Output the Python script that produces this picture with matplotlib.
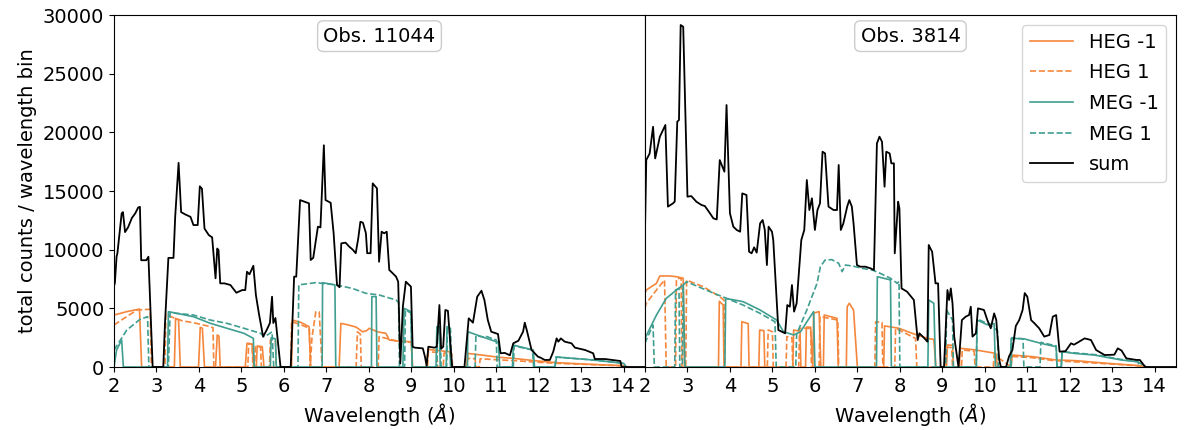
import matplotlib
matplotlib.use("Agg")
import matplotlib.pyplot as plt

# ---------------- Obs. 11044 (left panel) ----------------
obs11044_sum_wl = [2.0, 2.02, 2.06, 2.08, 2.18, 2.21, 2.26, 2.33, 2.42, 2.50, 2.57, 2.61, 2.64, 2.76, 2.81, 2.84, 2.91,
                   3.16, 3.20, 3.28, 3.40, 3.44, 3.52, 3.58, 3.68, 3.80, 3.87, 3.97, 4.02, 4.07, 4.13, 4.23, 4.31,
                   4.39, 4.43, 4.46, 4.50, 4.60, 4.74, 4.88, 5.02, 5.09, 5.13, 5.19, 5.28, 5.34, 5.41, 5.51, 5.60,
                   5.67, 5.72, 5.75, 5.80, 5.92, 6.16, 6.24, 6.29, 6.38, 6.59, 6.63, 6.69, 6.80, 6.86, 6.94, 6.98,
                   7.10, 7.17, 7.25, 7.31, 7.35, 7.45, 7.54, 7.62, 7.69, 7.75, 7.80, 7.86, 7.93, 7.96, 8.04, 8.09,
                   8.19, 8.24, 8.30, 8.36, 8.42, 8.48, 8.53, 8.64, 8.69, 8.74, 8.80, 8.87, 8.99, 9.03, 9.08, 9.27,
                   9.32, 9.36, 9.40, 9.54, 9.60, 9.66, 9.70, 9.75, 9.80, 9.86, 9.96, 10.25, 10.35, 10.45, 10.55,
                   10.65, 10.72, 10.80, 10.88, 11.04, 11.10, 11.20, 11.32, 11.40, 11.52, 11.63, 11.67, 11.72, 11.83,
                   11.98, 12.04, 12.14, 12.26, 12.34, 12.42, 12.46, 12.52, 12.61, 12.77, 12.85, 13.09, 13.28, 13.32,
                   13.56, 13.92, 13.95, 14.5]
obs11044_sum = [6900, 7160, 9400, 9700, 13100, 13200, 11500, 11900, 12700, 13100, 13600, 13650, 9100, 9100, 9400, 6560, 0,
                0, 3750, 9300, 9300, 12800, 17400, 13200, 13000, 12800, 12100, 12100, 15400, 15200, 11800, 11250, 11050,
                7560, 10100, 9960, 7130, 7130, 6990, 6330, 6560, 6560, 8120, 7900, 8630, 6140, 4570, 2580, 3200,
                3750, 5990, 3750, 4180, 0, 0, 7700, 7700, 14230, 13950, 9120, 9300, 11960, 11900, 18900, 14230,
                14000, 11400, 6990, 6800, 10540, 10600, 10250, 10000, 9700, 10970, 12380, 12300, 11400, 9700, 9700, 15650,
                15230, 8970, 11530, 11400, 11530, 8270, 8100, 7700, 7270, 300, 5140, 7270, 6850, 1730, 1650, 1590,
                880, 100, 1730, 1650, 1730, 5280, 1560, 1730, 4860, 4790, 0, 0, 4150, 3780, 5990,
                6500, 5700, 4000, 3010, 2810, 1170, 1200, 1000, 2020, 2240, 3010, 3780, 3100, 1450,
                880, 800, 600, 600, 1300, 2440, 2160, 2440, 2160, 2020, 1650, 1450, 1170, 680,
                680, 510, 0, 0]

obs11044_heg_m1_wl = [2.0, 2.30, 2.60, 2.65, 3.42, 3.45, 3.52, 3.56, 3.99, 4.03, 4.08, 4.13, 4.39, 4.43, 4.47, 4.50,
                      5.09, 5.13, 5.25, 5.29, 5.35, 5.37, 5.49, 5.53, 6.18, 6.20, 6.40, 6.59, 6.63, 7.30, 7.34, 7.50,
                      7.70, 7.85, 7.95, 8.01, 8.20, 8.40, 8.48, 8.72, 9.00, 9.03, 9.35, 9.40, 9.90, 9.96, 10.30, 10.33,
                      10.70, 11.08, 11.40, 11.90, 12.42, 13.20, 14.00, 14.10]
obs11044_heg_m1 = [4430, 4720, 4940, 0, 0, 4150, 4000, 0, 0, 3380, 3300, 0, 0, 2730, 2640, 0,
                   0, 2020, 1960, 0, 0, 1790, 1730, 0, 0, 4000, 3800, 3440, 0, 0, 3720, 3600,
                   3400, 3000, 3100, 3300, 3000, 2870, 2300, 2200, 2150, 0, 0, 1500, 1300, 0, 0, 1160,
                   1000, 820, 740, 540, 370, 230, 110, 0]

obs11044_heg_p1_wl = [2.0, 2.30, 2.54, 2.85, 2.88, 3.20, 3.22, 3.40, 3.60, 3.90, 4.20, 4.33, 4.35, 5.15, 5.17, 5.25,
                      5.27, 5.31, 5.33, 5.45, 5.47, 5.66, 5.68, 5.80, 5.82, 6.16, 6.18, 6.40, 6.60, 6.62, 6.66, 6.75,
                      6.83, 6.90, 7.70, 7.73, 7.80, 7.82, 8.22, 8.24, 8.40, 8.72, 9.00, 9.02, 9.38, 9.40, 9.60, 9.62,
                      9.75, 9.77, 9.95, 9.97, 10.30, 10.33, 10.50, 10.52, 10.60, 10.62, 11.10, 11.40, 12.00, 12.50,
                      13.30, 14.00, 14.05]
obs11044_heg_p1 = [3580, 4300, 4860, 4920, 0, 0, 4500, 4200, 3950, 3750, 3500, 3350, 0, 0, 2000, 1950,
                   0, 0, 1750, 1700, 0, 0, 2300, 2250, 0, 0, 3860, 3600, 3300, 0, 2500, 4700,
                   4700, 0, 0, 3000, 2800, 0, 0, 2590, 2450, 2160, 2100, 0, 0, 1300, 1250, 0,
                   0, 1200, 1150, 0, 0, 740, 700, 0, 0, 700, 600, 550, 400, 300,
                   200, 100, 0]

obs11044_meg_m1_wl = [2.0, 2.06, 2.18, 2.22, 3.26, 3.28, 3.87, 4.27, 4.66, 5.06, 5.28, 5.30, 5.68, 5.70, 5.80, 5.82,
                      6.90, 6.91, 7.20, 7.22, 8.06, 8.07, 8.17, 8.19, 8.80, 8.83, 8.99, 9.02, 9.58, 9.60, 9.66, 9.68,
                      9.82, 9.84, 9.90, 9.92, 10.32, 10.33, 10.65, 11.05, 11.08, 11.38, 11.40, 11.87, 11.90, 12.38,
                      12.42, 13.28, 14.00, 14.05]
obs11044_meg_m1 = [0, 1450, 2300, 0, 0, 4720, 4290, 3720, 3300, 2870, 2440, 0, 0, 2500, 2400, 0,
                   0, 7190, 7000, 0, 0, 6000, 6000, 0, 0, 5000, 4720, 0, 0, 3440, 3440, 0,
                   0, 3440, 3300, 0, 0, 3010, 2590, 2100, 0, 0, 1870, 1450, 0, 0,
                   850, 600, 310, 0]

obs11044_meg_p1_wl = [2.0, 2.30, 2.61, 2.79, 2.82, 3.28, 3.32, 3.87, 4.27, 4.66, 5.06, 5.45, 5.53, 5.62, 5.72, 5.76,
                      6.33, 6.35, 6.75, 7.22, 7.61, 7.93, 8.24, 8.64, 8.70, 8.72, 8.84, 8.86, 8.99, 9.02, 9.60, 9.62,
                      9.68, 9.70, 9.83, 9.85, 9.92, 9.95, 10.50, 10.52, 10.75, 10.77, 11.00, 11.02, 11.40, 11.42,
                      11.85, 11.88, 12.38, 12.40, 13.20, 14.00, 14.05]
obs11044_meg_p1 = [1450, 3150, 4060, 4290, 0, 0, 4630, 4430, 4000, 3720, 3300, 2870, 2590, 2750, 3000, 0,
                   0, 7000, 7190, 7000, 6700, 6280, 6140, 5710, 5500, 0, 0, 4860, 4600, 0, 0, 3000,
                   3000, 0, 0, 3400, 3300, 0, 0, 2700, 2500, 2600, 2300, 0, 0, 1800,
                   1450, 0, 0, 850, 620, 320, 0]

# ---------------- Obs. 3814 (right panel) ----------------
obs3814_sum_wl = [2.0, 2.03, 2.11, 2.19, 2.24, 2.35, 2.48, 2.54, 2.66, 2.70, 2.76, 2.80, 2.84, 2.90, 3.00, 3.09,
                  3.21, 3.33, 3.41, 3.53, 3.61, 3.69, 3.76, 3.87, 3.92, 4.00, 4.08, 4.16, 4.24, 4.29, 4.39, 4.45,
                  4.51, 4.57, 4.63, 4.71, 4.77, 4.82, 4.87, 4.91, 4.99, 5.02, 5.14, 5.30, 5.35, 5.41, 5.46, 5.51,
                  5.57, 5.68, 5.75, 5.81, 5.87, 5.93, 6.00, 6.06, 6.12, 6.18, 6.24, 6.32, 6.44, 6.52, 6.56, 6.61,
                  6.67, 6.76, 6.81, 6.87, 6.91, 6.99, 7.07, 7.19, 7.31, 7.39, 7.46, 7.52, 7.58, 7.64, 7.68, 7.76,
                  7.80, 7.86, 7.88, 7.96, 7.99, 8.04, 8.17, 8.33, 8.42, 8.46, 8.54, 8.65, 8.68, 8.72, 8.76, 8.84,
                  8.90, 8.96, 9.04, 9.12, 9.16, 9.20, 9.24, 9.28, 9.38, 9.46, 9.55, 9.63, 9.67, 9.71, 9.79, 9.84,
                  9.98, 10.06, 10.14, 10.22, 10.27, 10.34, 10.38, 10.50, 10.57, 10.65, 10.73, 10.81, 10.89, 10.94,
                  11.00, 11.09, 11.17, 11.28, 11.40, 11.52, 11.60, 11.68, 11.76, 11.90, 12.03, 12.10, 12.35, 12.50,
                  12.62, 12.82, 13.05, 13.13, 13.22, 13.33, 13.57, 13.65, 13.76, 13.80, 14.5]
obs3814_sum = [11530, 17640, 18200, 20480, 17780, 19630, 20630, 13670, 13950, 14100, 20910, 21050, 29150, 29000, 14520, 14570,
               14090, 13810, 13720, 13100, 12670, 12580, 17640, 16650, 22330, 13100, 11960, 11680, 11530, 14800, 14660, 9830,
               9690, 10200, 9750, 12240, 12530, 11700, 8690, 11960, 11530, 10820, 3150, 2870, 5280, 5140, 6990, 4720,
               5430, 10820, 11680, 15940, 13380, 14380, 11680, 13380, 13950, 18350, 18210, 13670, 13380, 13380, 17220, 11680,
               12240, 13670, 14230, 13670, 12240, 8690, 8550, 8550, 8410, 8270, 19060, 19630, 19200, 15370, 18350, 18210,
               17360, 17360, 9690, 14090, 13500, 6700, 6420, 5710, 2300, 2870, 2590, 2160, 10400, 10100, 9830, 7130,
               7130, 0, 0, 6560, 5710, 6700, 5430, 2590, 0, 4000, 4290, 4430, 5140, 2590, 2870, 5000,
               4860, 4000, 3300, 4570, 4000, 600, 0, 0, 900, 1450, 3500, 4000, 4860, 6300,
               6000, 4000, 3720, 3300, 2590, 2730, 4290, 4430, 1310, 1350, 2020, 1900, 2440, 2300,
               1450, 1020, 1050, 1590, 1400, 740, 600, 600, 85, 0, 0]

obs3814_heg_m1_wl = [2.0, 2.03, 2.27, 2.35, 2.58, 2.74, 2.90, 2.93, 3.73, 3.75, 3.84, 3.86, 4.26, 4.28, 4.43, 4.45,
                     4.68, 4.70, 4.80, 4.82, 5.48, 5.50, 5.65, 5.67, 5.78, 5.80, 5.90, 5.95, 5.97, 6.10, 6.14, 6.20,
                     6.22, 6.52, 6.55, 6.74, 6.76, 6.81, 6.91, 7.00, 7.62, 7.64, 7.98, 8.29, 8.65, 8.80, 8.85, 9.10,
                     9.12, 9.24, 9.26, 9.40, 9.42, 9.79, 10.26, 10.30, 10.60, 10.65, 11.13, 11.68, 12.15, 12.90,
                     13.70, 13.75]
obs3814_heg_m1 = [6300, 6560, 7130, 7760, 7760, 7700, 7560, 0, 0, 5600, 5300, 0, 0, 3860, 3700, 0,
                  0, 3150, 3100, 0, 0, 3150, 3050, 0, 0, 3400, 3400, 0, 4600, 4720, 0, 0,
                  4430, 4150, 0, 0, 5140, 5430, 4860, 0, 0, 3500, 3300, 2870, 2440, 2350, 0, 0,
                  1880, 1850, 0, 0, 1600, 1450, 1160, 0, 0, 1020, 880, 600, 540, 310,
                  100, 0]

obs3814_heg_p1_wl = [2.0, 2.03, 2.27, 2.46, 2.50, 2.72, 2.74, 2.85, 2.87, 2.96, 2.98, 3.37, 3.76, 3.86, 3.88, 4.88,
                     4.90, 5.00, 5.02, 5.32, 5.34, 5.46, 5.48, 5.62, 5.64, 5.90, 5.92, 6.10, 6.12, 6.54, 6.56,
                     7.41, 7.43, 7.58, 7.60, 7.88, 7.90, 8.37, 8.40, 9.08, 9.10, 9.22, 9.24, 9.45, 9.47, 9.75,
                     9.77, 10.20, 10.22, 10.62, 10.64, 11.10, 11.60, 12.20, 13.00, 13.70, 13.75]
obs3814_heg_p1 = [5000, 5430, 6560, 7420, 0, 0, 7500, 7600, 0, 0, 7400, 6850, 6000, 5700, 0, 0,
                  3150, 3000, 0, 0, 2600, 2500, 0, 0, 3300, 3300, 0, 0, 4300, 4000, 0,
                  0, 3860, 3800, 0, 0, 3300, 2440, 0, 0, 1700, 1650, 0, 0, 1450, 1350,
                  0, 0, 1050, 0, 900, 800, 550, 420, 250, 80, 0]

obs3814_meg_m1_wl = [2.0, 2.27, 2.50, 2.74, 2.90, 2.94, 3.88, 3.90, 4.31, 4.71, 5.10, 5.26, 5.50, 5.66, 5.89, 5.97,
                     6.00, 7.45, 7.47, 7.78, 7.80, 8.66, 8.68, 8.80, 8.84, 9.80, 9.82, 10.06, 10.22, 10.25, 10.60,
                     10.62, 10.93, 11.17, 11.40, 11.68, 11.70, 11.80, 11.82, 12.11, 12.58, 13.21, 13.60, 13.76, 13.78]
obs3814_meg_m1 = [2440, 4430, 5850, 6560, 6990, 0, 0, 5850, 5570, 4860, 4000, 3010, 2730, 3000, 4290, 4720,
                  0, 0, 7700, 7420, 0, 0, 5710, 5430, 0, 0, 4000, 3600, 3700, 0, 0,
                  2440, 2400, 2160, 1950, 1730, 0, 0, 1300, 1160, 1020, 600, 450, 100, 0]

obs3814_meg_p1_wl = [2.0, 2.03, 2.19, 2.22, 2.70, 2.72, 2.80, 2.82, 2.88, 2.90, 2.98, 3.53, 3.92, 4.31, 4.71, 5.06,
                     5.09, 5.55, 5.57, 5.81, 6.05, 6.13, 6.24, 6.40, 6.56, 6.64, 6.72, 6.90, 7.11, 7.35, 7.54, 7.78,
                     7.94, 7.98, 8.00, 9.08, 9.10, 9.24, 9.26, 9.80, 9.82, 10.06, 10.30, 10.32, 10.62, 10.64, 10.90,
                     10.92, 11.30, 11.32, 11.68, 11.70, 11.80, 11.82, 12.60, 13.20, 13.60, 13.65]
obs3814_meg_p1 = [2000, 2300, 3580, 0, 0, 6560, 6700, 0, 0, 7000, 7270, 6420, 5850, 5280, 4570, 3860,
                  0, 0, 2800, 4860, 7130, 8550, 9120, 9150, 8840, 8130, 8690, 8600, 8410, 8270, 7980, 7560,
                  7130, 7300, 0, 0, 4860, 4000, 0, 0, 4100, 3700, 3100, 0, 0, 2500, 2400,
                  0, 0, 2100, 1800, 0, 0, 1300, 1050, 650, 450, 0]

obs_labels = ["Obs. 11044", "Obs. 3814"]
series_labels = ["HEG -1", "HEG 1", "MEG -1", "MEG 1", "sum"]
yticks = [0, 5000, 10000, 15000, 20000, 25000, 30000]
xticks = list(range(2, 15))

ORANGE = "#f5873c"
TEAL = "#3f9e90"

panels = [
    (obs11044_heg_m1_wl, obs11044_heg_m1, obs11044_heg_p1_wl, obs11044_heg_p1,
     obs11044_meg_m1_wl, obs11044_meg_m1, obs11044_meg_p1_wl, obs11044_meg_p1,
     obs11044_sum_wl, obs11044_sum),
    (obs3814_heg_m1_wl, obs3814_heg_m1, obs3814_heg_p1_wl, obs3814_heg_p1,
     obs3814_meg_m1_wl, obs3814_meg_m1, obs3814_meg_p1_wl, obs3814_meg_p1,
     obs3814_sum_wl, obs3814_sum),
]
styles = [(ORANGE, "-"), (ORANGE, "--"), (TEAL, "-"), (TEAL, "--"), ("black", "-")]

plt.rcParams["font.family"] = ["DejaVu Sans"]
plt.rcParams["font.size"] = 14

fig, axes = plt.subplots(1, 2, figsize=(11.84, 4.30), dpi=100, sharey=True)
fig.subplots_adjust(left=0.0963, right=0.9932, bottom=0.1465, top=0.965, wspace=0)

for ax, data, title in zip(axes, panels, obs_labels):
    for i, (col, ls) in enumerate(styles):
        xs = data[2 * i]
        ys = data[2 * i + 1]
        lw = 1.3 if col == "black" else 1.2
        ax.plot(xs, ys, color=col, ls=ls, lw=lw, label=series_labels[i])
    ax.set_xlim(2, 14.5)
    ax.set_ylim(0, 30000)
    ax.set_xticks(xticks)
    ax.set_yticks(yticks)
    ax.tick_params(labelsize=14)
    ax.set_xlabel(r"Wavelength ($\AA$)", fontsize=14)
    ax.text(0.5, 0.94, title, transform=ax.transAxes, ha="center", va="center", fontsize=14,
            bbox=dict(boxstyle="round", facecolor="white", edgecolor="0.8"))

axes[0].set_ylabel("total counts / wavelength bin", fontsize=14)
axes[1].tick_params(axis="y", left=False)
axes[1].legend(loc="upper right", fontsize=14, labelspacing=0.6, handlelength=2.2)

fig.savefig("out.png", dpi=100)
